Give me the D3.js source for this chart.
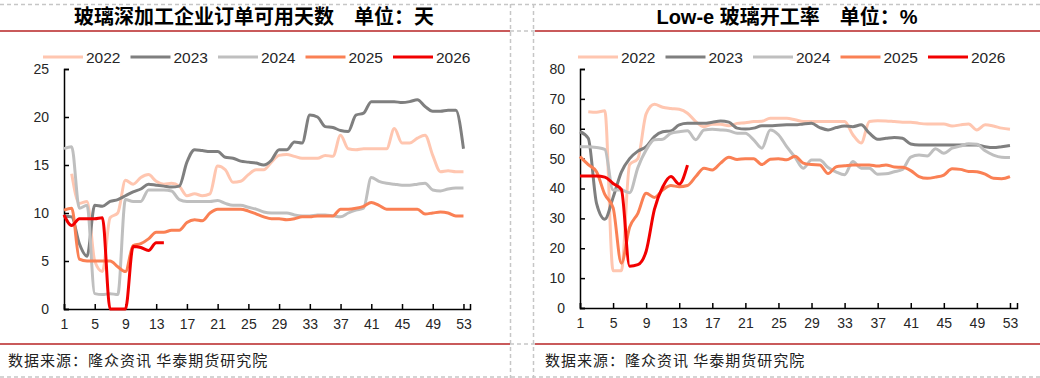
<!DOCTYPE html>
<html>
<head>
<meta charset="utf-8">
<script src="https://cdn.jsdelivr.net/npm/d3@7"></script>
<style>
  body { margin: 0; background: #fff; }
  text { font-family: "Liberation Sans", Arial, "Noto Sans CJK SC", sans-serif; }
</style>
</head>
<body>
<script>
var width = 1040;
var height = 378;

// series names and colours
var years = ["2022", "2023", "2024", "2025", "2026"];
var colors = ["#ffc6b0", "#7f7f7f", "#bfbfbf", "#fa8054", "#f20000"];

// x axis labels (week numbers)
var weekTicks = [1, 5, 9, 13, 17, 21, 25, 29, 33, 37, 41, 45, 49, 53];

// left chart: order days, weeks 1..53
var days2022 = [null, 14.1, 11.0, 11.2, 5.0, 3.9, 9.5, 10.0, 13.4, 13.0, 13.7, 14.0, 13.3, 13.0, 13.1, 12.8, 11.8, 12.0, 11.8, 12.0,
  14.9, 14.5, 13.2, 13.3, 14.0, 14.5, 14.5, 15.3, 16.0, 16.1, 15.9, 15.7, 15.7, 15.7, 16.0, 15.9, 18.1, 16.7, 16.6, 16.7,
  16.7, 16.7, 16.7, 18.8, 17.3, 17.3, 17.8, 18.1, 16.0, 14.3, 14.4, 14.3, 14.3];
var days2023 = [9.7, 9.6, 6.8, 5.5, 10.8, 10.7, 11.2, 11.4, 11.8, 12.2, 12.5, 13.0, 12.9, 12.8, 12.7, 12.8, 15.3, 16.6, 16.5, 16.4,
  16.4, 15.8, 15.7, 15.4, 15.3, 15.2, 15.0, 15.5, 16.6, 16.6, 17.4, 17.3, 20.2, 20.0, 19.0, 18.9, 18.6, 18.5, 20.2, 20.4,
  21.6, 21.6, 21.6, 21.6, 21.5, 21.6, 21.8, 21.1, 20.6, 20.6, 20.7, 20.7, 16.7];
var days2024 = [16.7, 16.9, 10.5, 10.8, 1.6, 1.5, 1.6, 1.5, 11.4, 11.2, 11.2, 12.4, 12.4, 12.4, 12.3, 11.4, 11.2, 11.2, 11.2, 11.2,
  11.3, 11.0, 10.8, 10.8, 10.6, 10.4, 10.1, 10.0, 10.0, 10.0, 9.8, 9.7, 9.7, 9.8, 9.8, 9.7, 9.6, 10.0, 10.3, 10.5,
  13.7, 13.3, 13.1, 13.0, 12.9, 12.9, 13.0, 13.1, 12.4, 12.3, 12.5, 12.6, 12.6];
var days2025 = [10.3, 10.5, 5.2, 5.0, 5.0, 5.0, 5.0, 4.4, 3.9, 6.6, 6.8, 7.3, 8.0, 8.0, 8.2, 8.2, 9.0, 9.3, 9.2, 10.0,
  10.4, 10.4, 10.4, 10.4, 10.2, 9.9, 9.6, 9.4, 9.4, 9.3, 9.4, 9.6, 9.6, 9.7, 9.7, 9.7, 10.4, 10.4, 10.5, 10.7,
  11.1, 10.8, 10.4, 10.4, 10.4, 10.4, 10.4, 9.9, 10.0, 10.1, 10.0, 9.7, 9.7];
var days2026 = [9.8, 8.7, 9.4, 9.4, 9.4, 9.5, 0, 0, 0, 6.5, 6.4, 6.1, 6.9, 6.9];

// right chart: Low-e operating rate %, weeks 1..53
var rate2022 = [null, 65.7, 65.5, 66.0, 12.5, 12.5, 48.0, 50.0, 65.0, 68.2, 67.2, 66.8, 66.5, 65.2, 62.4, 60.7, 61.5, 61.5, 61.0, 61.8,
  62.0, 62.4, 62.5, 63.5, 63.5, 63.5, 63.0, 62.4, 62.4, 62.4, 62.4, 62.4, 62.4, 58.0, 55.2, 62.4, 62.7, 62.6, 62.4, 62.2,
  62.2, 61.8, 61.6, 61.6, 61.6, 60.9, 61.3, 61.6, 59.6, 61.3, 60.9, 60.2, 59.8];
var rate2023 = [59.0, 56.8, 35.0, 29.7, 37.0, 45.5, 50.0, 52.5, 54.0, 57.4, 59.0, 59.3, 61.3, 61.8, 61.8, 61.8, 62.2, 62.6, 62.2, 60.2,
  59.9, 60.2, 61.0, 61.0, 61.2, 61.3, 61.3, 61.6, 61.8, 60.4, 59.6, 60.4, 60.9, 60.7, 61.3, 58.5, 56.5, 56.8, 57.1, 56.8,
  54.9, 54.6, 54.6, 54.6, 54.6, 54.6, 54.6, 54.6, 54.6, 54.0, 53.7, 54.0, 54.4];
var rate2024 = [54.0, 54.0, 53.7, 53.1, 39.5, 39.5, 38.6, 47.0, 52.9, 56.3, 56.5, 58.5, 59.0, 59.3, 56.3, 59.6, 59.8, 59.6, 59.3, 58.5,
  58.5, 56.3, 53.5, 59.6, 58.0, 54.0, 50.5, 46.8, 49.5, 49.5, 47.0, 45.5, 44.6, 49.0, 46.8, 46.8, 44.8, 44.9, 45.6, 46.4,
  50.5, 51.2, 50.9, 53.3, 51.8, 53.5, 54.2, 55.0, 54.8, 52.6, 51.2, 50.5, 50.4];
var rate2025 = [50.7, 48.0, 45.6, 38.0, 33.6, 15.0, 27.0, 31.7, 38.4, 37.0, 39.5, 41.0, 40.6, 41.0, 44.0, 46.8, 46.2, 48.5, 50.5, 49.7,
  50.0, 50.0, 48.0, 49.8, 50.0, 49.6, 50.8, 48.5, 48.0, 47.9, 45.0, 47.3, 47.6, 47.9, 47.9, 47.9, 47.5, 47.9, 47.2, 47.1,
  46.0, 44.0, 43.4, 43.8, 44.5, 46.6, 46.4, 45.7, 45.6, 44.8, 43.4, 43.3, 44.0];
var rate2026 = [44.2, 44.2, 44.2, 43.8, 41.7, 39.7, 14.0, 14.5, 19.0, 33.0, 40.5, 44.0, 41.5, 47.8];

var leftTicks = [0, 5, 10, 15, 20, 25];
var rightTicks = [0, 10, 20, 30, 40, 50, 60, 70, 80];

var svg = d3.select("body")
  .append("svg")
  .attr("width", width)
  .attr("height", height);

// frame: dashed borders and red rules
var dash = svg.append("g")
  .attr("fill", "none")
  .attr("stroke", "#c6c6c6")
  .attr("stroke-width", 1.5)
  .attr("stroke-dasharray", "4,3");
dash.append("line").attr("x1", 0).attr("x2", width).attr("y1", 4.5).attr("y2", 4.5);
dash.append("line").attr("x1", 0).attr("x2", width).attr("y1", 377).attr("y2", 377);
dash.append("line").attr("x1", 510.5).attr("x2", 510.5).attr("y1", 4).attr("y2", height);
dash.append("line").attr("x1", 533.5).attr("x2", 533.5).attr("y1", 4).attr("y2", height);
dash.append("line").attr("x1", 510).attr("x2", 535).attr("y1", 31).attr("y2", 31);
dash.append("line").attr("x1", 510).attr("x2", 535).attr("y1", 344).attr("y2", 344);

[[0, 510], [535, width]].forEach(function(r) {
  [31, 344].forEach(function(yy) {
    svg.append("line")
      .attr("x1", r[0]).attr("x2", r[1])
      .attr("y1", yy).attr("y2", yy)
      .attr("stroke", "#c95a5b")
      .attr("stroke-width", 2);
  });
});

function drawPanel(p) {
  var g = svg.append("g");

  g.append("text")
    .attr("x", p.titleX)
    .attr("y", 24)
    .attr("text-anchor", "middle")
    .style("font-size", "20px")
    .style("font-weight", "bold")
    .attr("fill", "#000")
    .text(p.title);

  var x = d3.scaleLinear().domain([1, 53.85]).range([p.left, p.right]);
  var y = d3.scaleLinear().domain([0, p.yMax]).range([p.bottom, p.top]);

  // x axis
  var xAxis = g.append("g")
    .attr("transform", "translate(0," + p.bottom + ")")
    .call(d3.axisBottom(x).tickValues(weekTicks).tickSize(-5).tickPadding(10).tickFormat(d3.format("d")));
  // y axis
  var yAxis = g.append("g")
    .attr("transform", "translate(" + p.left + ",0)")
    .call(d3.axisLeft(y).tickValues(p.yTicks).tickSize(-5).tickPadding(15));

  [xAxis, yAxis].forEach(function(a) {
    a.select(".domain").attr("stroke", "#000").attr("stroke-width", 1.5);
    a.selectAll(".tick line").attr("stroke", "#000").attr("stroke-width", 1.5);
    a.selectAll(".tick text").attr("fill", "#262626").style("font-size", "14px");
  });

  var line = d3.line()
    .defined(function(d) { return d != null; })
    .x(function(d, i) { return x(i + 1); })
    .y(function(d) { return y(d); })
    .curve(d3.curveMonotoneX);

  p.series.forEach(function(s, i) {
    g.append("path")
      .datum(s)
      .attr("fill", "none")
      .attr("stroke", colors[i])
      .attr("stroke-width", 3)
      .attr("stroke-linejoin", "round")
      .attr("d", line);
  });

  // legend
  years.forEach(function(yr, i) {
    var lx = p.legendX + i * 87.5;
    g.append("line")
      .attr("x1", lx).attr("x2", lx + 40)
      .attr("y1", 57).attr("y2", 57)
      .attr("stroke", colors[i])
      .attr("stroke-width", 3);
    g.append("text")
      .attr("x", lx + 43)
      .attr("y", 62.5)
      .style("font-size", "15.5px")
      .attr("fill", "#262626")
      .text(yr);
  });

  g.append("text")
    .attr("x", p.sourceX)
    .attr("y", 366)
    .style("font-size", "15px")
    .style("letter-spacing", "1px")
    .style("font-family", "'Noto Sans CJK SC', sans-serif")
    .attr("fill", "#222")
    .text("数据来源：隆众资讯 华泰期货研究院");
}

drawPanel({
  title: "玻璃深加工企业订单可用天数　单位：天",
  titleX: 254,
  left: 64, right: 470, top: 69, bottom: 309,
  yMax: 25, yTicks: leftTicks,
  series: [days2022, days2023, days2024, days2025, days2026],
  legendX: 43,
  sourceX: 8
});

drawPanel({
  title: "Low-e 玻璃开工率　单位：%",
  titleX: 787,
  left: 580, right: 1017, top: 69, bottom: 308,
  yMax: 80, yTicks: rightTicks,
  series: [rate2022, rate2023, rate2024, rate2025, rate2026],
  legendX: 578,
  sourceX: 545
});
</script>
</body>
</html>
